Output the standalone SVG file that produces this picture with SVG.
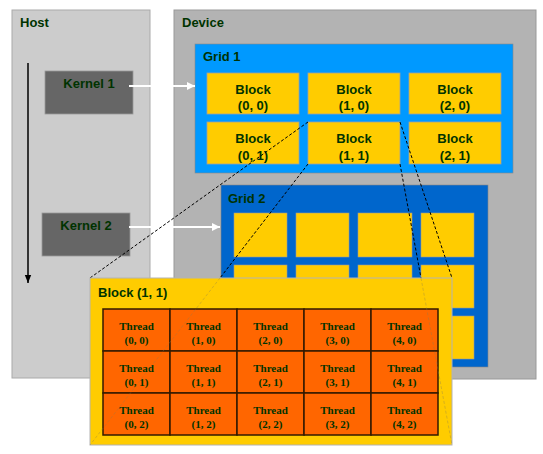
<svg xmlns="http://www.w3.org/2000/svg" width="543" height="454" viewBox="0 0 543 454">
<style>
.lbl{font-family:"Liberation Sans",Arial,sans-serif;font-weight:bold;font-size:13px;fill:#003300}
.mid{text-anchor:middle}
.thr{font-family:"Liberation Serif","Times New Roman",serif;font-weight:bold;font-size:11px;fill:#003300;text-anchor:middle}
.blk{fill:#ffcc00;stroke:#a0a0a0;stroke-width:0.8}
.blk2{fill:#ffcc00;stroke:#999;stroke-width:0.6}
.th{fill:#ff6600;stroke:#331a00;stroke-width:1.5}
.dash{fill:none;stroke:#000;stroke-width:1;stroke-dasharray:3 2}
.faint{fill:none;stroke:#8a7a50;stroke-width:1;stroke-dasharray:3 2;opacity:0.35}
</style>
<defs>
<marker id="wh" viewBox="0 0 10 10" refX="10" refY="5" markerWidth="8" markerHeight="8" markerUnits="userSpaceOnUse" orient="auto"><path d="M0,0 L10,5 L0,10 z" fill="#fff"/></marker>
<marker id="bk" viewBox="0 0 10 10" refX="10" refY="5" markerWidth="12" markerHeight="8" markerUnits="userSpaceOnUse" orient="auto"><path d="M0,1 L10,5 L0,9 z" fill="#000"/></marker>
</defs>
<g id="host">
<rect x="12" y="10" width="138" height="368" fill="#cccccc" stroke="#aaaaaa" stroke-width="1"/>
<text class="lbl" x="20" y="27">Host</text>
</g>
<g id="device">
<rect x="174" y="10" width="362" height="369" fill="#b3b3b3" stroke="#999999" stroke-width="1"/>
<text class="lbl" x="182" y="27">Device</text>
</g>
<g id="kernel1">
<rect x="45" y="71" width="88" height="43" fill="#666666" stroke="#999" stroke-width="0.8"/>
<text class="lbl mid" x="89" y="88">Kernel 1</text>
</g>
<g id="kernel2">
<rect x="42" y="213" width="88" height="43" fill="#666666" stroke="#999" stroke-width="0.8"/>
<text class="lbl mid" x="86" y="230">Kernel 2</text>
</g>
<g id="grid1">
<rect x="195" y="44" width="318" height="129" fill="#0099ff" stroke="#888" stroke-width="0.6"/>
<text class="lbl" x="203" y="61">Grid 1</text>
<g id="g1b00"><rect class="blk" x="207" y="73" width="92" height="41"/><text class="lbl mid" x="253" y="94">Block</text><text class="lbl mid" x="253" y="110">(0, 0)</text></g>
<g id="g1b10"><rect class="blk" x="308" y="73" width="92" height="41"/><text class="lbl mid" x="354" y="94">Block</text><text class="lbl mid" x="354" y="110">(1, 0)</text></g>
<g id="g1b20"><rect class="blk" x="409" y="73" width="92" height="41"/><text class="lbl mid" x="455" y="94">Block</text><text class="lbl mid" x="455" y="110">(2, 0)</text></g>
<g id="g1b01"><rect class="blk" x="207" y="122" width="92" height="42"/><text class="lbl mid" x="253" y="143">Block</text><text class="lbl mid" x="253" y="160">(0, 1)</text></g>
<g id="g1b11"><rect class="blk" x="308" y="122" width="92" height="42"/><text class="lbl mid" x="354" y="143">Block</text><text class="lbl mid" x="354" y="160">(1, 1)</text></g>
<g id="g1b21"><rect class="blk" x="409" y="122" width="92" height="42"/><text class="lbl mid" x="455" y="143">Block</text><text class="lbl mid" x="455" y="160">(2, 1)</text></g>
</g>
<g id="grid2">
<rect x="221" y="185" width="267" height="182" fill="#0066cc" stroke="#888" stroke-width="0.6"/>
<text class="lbl" x="228" y="203">Grid 2</text>
<rect class="blk2" x="234" y="213" width="53" height="44"/>
<rect class="blk2" x="296" y="213" width="53" height="44"/>
<rect class="blk2" x="358" y="213" width="54" height="44"/>
<rect class="blk2" x="421" y="213" width="53" height="44"/>
<rect class="blk2" x="234" y="265" width="53" height="43"/>
<rect class="blk2" x="296" y="265" width="53" height="43"/>
<rect class="blk2" x="358" y="265" width="54" height="43"/>
<rect class="blk2" x="421" y="265" width="53" height="43"/>
<rect class="blk2" x="234" y="316" width="53" height="43"/>
<rect class="blk2" x="296" y="316" width="53" height="43"/>
<rect class="blk2" x="358" y="316" width="54" height="43"/>
<rect class="blk2" x="421" y="316" width="53" height="43"/>
</g>
<g id="connectors">
<line x1="28" y1="63" x2="28" y2="283" stroke="#000" stroke-width="1.5" marker-end="url(#bk)"/>
<line x1="129" y1="86" x2="195" y2="86" stroke="#fff" stroke-width="2" marker-end="url(#wh)"/>
<line x1="129" y1="227" x2="220" y2="227" stroke="#fff" stroke-width="2" marker-end="url(#wh)"/>
<line class="dash" x1="308" y1="122" x2="90" y2="278"/>
<line class="dash" x1="308" y1="164" x2="220" y2="278"/>
<line class="dash" x1="400" y1="122" x2="452" y2="278"/>
<line class="dash" x1="400" y1="164" x2="421" y2="278"/>
</g>
<g id="block11">
<rect x="90" y="278" width="362" height="167" fill="#ffcc00" stroke="#b3b3b3" stroke-width="1"/>
<text class="lbl" x="98" y="297">Block (1, 1)</text>
<g id="threads">
<rect class="th" x="103" y="309" width="67" height="42"/><rect class="th" x="170" y="309" width="67" height="42"/><rect class="th" x="237" y="309" width="67" height="42"/><rect class="th" x="304" y="309" width="67" height="42"/><rect class="th" x="371" y="309" width="67" height="42"/>
<rect class="th" x="103" y="351" width="67" height="42"/><rect class="th" x="170" y="351" width="67" height="42"/><rect class="th" x="237" y="351" width="67" height="42"/><rect class="th" x="304" y="351" width="67" height="42"/><rect class="th" x="371" y="351" width="67" height="42"/>
<rect class="th" x="103" y="393" width="67" height="42"/><rect class="th" x="170" y="393" width="67" height="42"/><rect class="th" x="237" y="393" width="67" height="42"/><rect class="th" x="304" y="393" width="67" height="42"/><rect class="th" x="371" y="393" width="67" height="42"/>
<text class="thr" x="136.5" y="330">Thread</text><text class="thr" x="136.5" y="344">(0, 0)</text>
<text class="thr" x="203.5" y="330">Thread</text><text class="thr" x="203.5" y="344">(1, 0)</text>
<text class="thr" x="270.5" y="330">Thread</text><text class="thr" x="270.5" y="344">(2, 0)</text>
<text class="thr" x="337.5" y="330">Thread</text><text class="thr" x="337.5" y="344">(3, 0)</text>
<text class="thr" x="404.5" y="330">Thread</text><text class="thr" x="404.5" y="344">(4, 0)</text>
<text class="thr" x="136.5" y="372">Thread</text><text class="thr" x="136.5" y="386">(0, 1)</text>
<text class="thr" x="203.5" y="372">Thread</text><text class="thr" x="203.5" y="386">(1, 1)</text>
<text class="thr" x="270.5" y="372">Thread</text><text class="thr" x="270.5" y="386">(2, 1)</text>
<text class="thr" x="337.5" y="372">Thread</text><text class="thr" x="337.5" y="386">(3, 1)</text>
<text class="thr" x="404.5" y="372">Thread</text><text class="thr" x="404.5" y="386">(4, 1)</text>
<text class="thr" x="136.5" y="414">Thread</text><text class="thr" x="136.5" y="428">(0, 2)</text>
<text class="thr" x="203.5" y="414">Thread</text><text class="thr" x="203.5" y="428">(1, 2)</text>
<text class="thr" x="270.5" y="414">Thread</text><text class="thr" x="270.5" y="428">(2, 2)</text>
<text class="thr" x="337.5" y="414">Thread</text><text class="thr" x="337.5" y="428">(3, 2)</text>
<text class="thr" x="404.5" y="414">Thread</text><text class="thr" x="404.5" y="428">(4, 2)</text>
</g>
<line class="faint" x1="220" y1="278" x2="90" y2="445"/>
<line class="faint" x1="421" y1="278" x2="452" y2="445"/>
</g>
</svg>
